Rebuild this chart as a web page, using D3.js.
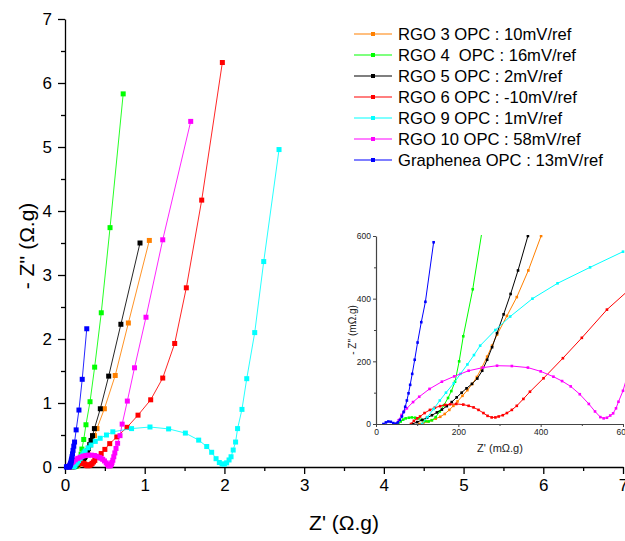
<!DOCTYPE html>
<html><head><meta charset="utf-8">
<script src="https://cdn.jsdelivr.net/npm/d3@7"></script>
<style>body{margin:0;background:#fff}svg{display:block}text{font-family:"Liberation Sans",Arial,sans-serif}</style>
</head><body>
<script>
// ---------- data (Z' , -Z'' in Ω.g) ----------
const seriesNames = ["RGO 3 OPC : 10mV/ref","RGO 4  OPC : 16mV/ref","RGO 5 OPC : 2mV/ref","RGO 6 OPC : -10mV/ref","RGO 9 OPC : 1mV/ref","RGO 10 OPC : 58mV/ref","Graphenea OPC : 13mV/ref"];
const seriesColors = ["#ff8000","#00ff00","#000000","#ff0000","#00ffff","#ff00ff","#0000ff"];
const rgo3 = [[0.105,0],[0.115,0.004],[0.125,0.008],[0.135,0.012],[0.145,0.017],[0.156,0.023],[0.167,0.032],[0.178,0.045],[0.188,0.058],[0.198,0.072],[0.210,0.090],[0.222,0.108],[0.234,0.128],[0.245,0.150],[0.257,0.180],[0.270,0.215],[0.282,0.250],[0.294,0.285],[0.318,0.345],[0.342,0.405],[0.370,0.49],[0.401,0.60],[0.494,0.91],[0.630,1.43],[0.795,2.25],[1.058,3.54]];
const rgo4 = [[0.054,0],[0.060,0.008],[0.066,0.014],[0.072,0.018],[0.080,0.020],[0.087,0.021],[0.095,0.020],[0.103,0.018],[0.112,0.013],[0.120,0.009],[0.128,0.008],[0.136,0.012],[0.145,0.022],[0.155,0.040],[0.165,0.060],[0.175,0.083],[0.183,0.105],[0.192,0.135],[0.202,0.20],[0.212,0.28],[0.235,0.43],[0.263,0.66],[0.314,1.02],[0.372,1.56],[0.455,2.41],[0.565,3.74],[0.73,5.83]];
const rgo5 = [[0.088,0],[0.100,0.006],[0.112,0.013],[0.124,0.020],[0.136,0.028],[0.148,0.037],[0.160,0.046],[0.172,0.057],[0.184,0.070],[0.196,0.085],[0.208,0.100],[0.220,0.114],[0.233,0.128],[0.246,0.145],[0.258,0.170],[0.270,0.205],[0.282,0.245],[0.294,0.290],[0.310,0.350],[0.327,0.415],[0.345,0.49],[0.369,0.60],[0.443,0.91],[0.548,1.42],[0.701,2.23],[0.941,3.50]];
const rgo6 = [[0.085,0],[0.092,0.010],[0.100,0.018],[0.107,0.024],[0.118,0.035],[0.131,0.045],[0.143,0.052],[0.156,0.057],[0.168,0.061],[0.180,0.063],[0.195,0.064],[0.212,0.062],[0.225,0.058],[0.237,0.053],[0.249,0.045],[0.261,0.035],[0.271,0.026],[0.281,0.021],[0.290,0.021],[0.298,0.024],[0.308,0.028],[0.318,0.035],[0.330,0.045],[0.342,0.058],[0.358,0.080],[0.374,0.103],[0.407,0.146],[0.454,0.21],[0.50,0.275],[0.561,0.365],[0.65,0.47],[0.778,0.62],[0.916,0.81],[1.075,1.05],[1.226,1.39],[1.376,1.93],[1.522,2.80],[1.715,4.17],[1.974,6.32]];
const rgo9 = [[0.112,0],[0.125,0.022],[0.140,0.048],[0.155,0.075],[0.170,0.100],[0.189,0.130],[0.205,0.16],[0.222,0.19],[0.238,0.22],[0.253,0.25],[0.29,0.30],[0.326,0.343],[0.38,0.40],[0.441,0.449],[0.52,0.50],[0.60,0.55],[0.835,0.60],[1.066,0.625],[1.30,0.595],[1.51,0.53],[1.677,0.42],[1.778,0.32],[1.84,0.23],[1.895,0.13],[1.936,0.07],[1.97,0.047],[2.0,0.045],[2.028,0.065],[2.058,0.11],[2.083,0.16],[2.11,0.265],[2.14,0.39],[2.165,0.60],[2.22,0.90],[2.28,1.38],[2.38,2.10],[2.493,3.21],[2.685,4.96]];
const rgo10 = [[0.048,0],[0.055,0.012],[0.062,0.029],[0.068,0.040],[0.075,0.050],[0.090,0.070],[0.105,0.087],[0.130,0.112],[0.160,0.135],[0.190,0.152],[0.225,0.170],[0.260,0.180],[0.294,0.186],[0.330,0.185],[0.369,0.180],[0.400,0.168],[0.431,0.151],[0.452,0.137],[0.473,0.120],[0.495,0.095],[0.517,0.064],[0.532,0.040],[0.545,0.022],[0.553,0.018],[0.561,0.020],[0.569,0.027],[0.576,0.034],[0.583,0.050],[0.589,0.071],[0.600,0.106],[0.612,0.16],[0.625,0.22],[0.640,0.29],[0.66,0.37],[0.69,0.49],[0.717,0.67],[0.782,1.03],[0.872,1.55],[1.016,2.34],[1.226,3.55],[1.577,5.40]];
const graphenea = [[0.018,0],[0.024,0.005],[0.030,0.008],[0.036,0.007],[0.042,0.003],[0.048,0.001],[0.053,0.005],[0.058,0.013],[0.063,0.024],[0.067,0.038],[0.071,0.055],[0.075,0.075],[0.079,0.098],[0.083,0.125],[0.088,0.16],[0.094,0.205],[0.101,0.26],[0.110,0.325],[0.120,0.39],[0.140,0.58],[0.175,0.89],[0.216,1.37],[0.273,2.16]];
const seriesData = [rgo3,rgo4,rgo5,rgo6,rgo9,rgo10,graphenea];
const mainTicks = [0,1,2,3,4,5,6,7];
const mainMinor = [0.5,1.5,2.5,3.5,4.5,5.5,6.5];
const insetTicks = [0,200,400,600];
const insetMinor = [100,300,500];

// ---------- layout ----------
const W=625,H=541;
const svg=d3.select("body").append("svg").attr("width",W).attr("height",H);
const x=d3.scaleLinear().domain([0,7]).range([65,623]);
const y=d3.scaleLinear().domain([0,7]).range([467,19]);

function axisStyle(g,col){g.select(".domain").attr("stroke",col).attr("stroke-width",1.3);g.selectAll(".tick line").attr("stroke",col).attr("stroke-width",1.3);}

// main axes
svg.append("g").attr("transform","translate(0,467)")
  .call(d3.axisBottom(x).tickValues(mainMinor).tickSize(4).tickFormat("").tickSizeOuter(0))
  .call(g=>{axisStyle(g,"#000");g.select(".domain").remove();});
svg.append("g").attr("transform","translate(65,0)")
  .call(d3.axisLeft(y).tickValues(mainMinor).tickSize(4).tickFormat("").tickSizeOuter(0))
  .call(g=>{axisStyle(g,"#000");g.select(".domain").remove();});
svg.append("g").attr("transform","translate(0,467)")
  .call(d3.axisBottom(x).tickValues(mainTicks).tickSize(7).tickPadding(5).tickSizeOuter(0).tickFormat(d3.format("d")))
  .call(g=>{axisStyle(g,"#000");g.selectAll("text").attr("font-size",17).attr("fill","#000").attr("font-family","Liberation Sans, Arial, sans-serif");});
svg.append("g").attr("transform","translate(65,0)")
  .call(d3.axisLeft(y).tickValues(mainTicks).tickSize(7).tickPadding(6).tickSizeOuter(0).tickFormat(d3.format("d")))
  .call(g=>{axisStyle(g,"#000");g.selectAll("text").attr("font-size",17).attr("fill","#000").attr("font-family","Liberation Sans, Arial, sans-serif");});

svg.append("text").attr("x",344).attr("y",530).attr("text-anchor","middle").attr("font-size",21).text("Z' (Ω.g)");
svg.append("text").attr("transform","translate(34,246) rotate(-90)").attr("text-anchor","middle").attr("font-size",21).text("- Z'' (Ω.g)");

// main series
const line=d3.line().x(d=>x(d[0])).y(d=>y(d[1]));
seriesData.forEach((s,i)=>{
  const g=svg.append("g");
  g.append("path").attr("d",line(s)).attr("fill","none").attr("stroke",seriesColors[i]).attr("stroke-width",1).attr("stroke-opacity",0.85);
  g.selectAll("rect").data(s).join("rect")
    .attr("x",d=>x(d[0])-2.5).attr("y",d=>y(d[1])-2.5).attr("width",5).attr("height",5).attr("fill",seriesColors[i]);
});

// legend
const lg=svg.append("g");
seriesNames.forEach((n,i)=>{
  const yy=34+i*21;
  lg.append("line").attr("x1",354).attr("x2",392).attr("y1",yy).attr("y2",yy).attr("stroke",seriesColors[i]).attr("stroke-width",1.2);
  lg.append("rect").attr("x",371).attr("y",yy-2).attr("width",4).attr("height",4).attr("fill",seriesColors[i]);
  lg.append("text").attr("x",398).attr("y",yy+6).attr("font-size",16.6).attr("fill","#000").style("white-space","pre").text(n);
});

// ---------- inset ----------
const xi=d3.scaleLinear().domain([0,600]).range([376,623]);
const yi=d3.scaleLinear().domain([0,600]).range([424,236]);
svg.append("defs").append("clipPath").attr("id","ic").append("rect").attr("x",376).attr("y",235).attr("width",249).attr("height",190);
const ins=svg.append("g").attr("clip-path","url(#ic)");
const iline=d3.line().x(d=>xi(d[0]*1000)).y(d=>yi(d[1]*1000));
seriesData.forEach((s,i)=>{
  const pts=s.filter(d=>d[0]<=0.75&&d[1]<=0.75);
  ins.append("path").attr("d",iline(pts)).attr("fill","none").attr("stroke",seriesColors[i]).attr("stroke-width",1);
  ins.selectAll("rect.m"+i).data(pts).join("rect")
    .attr("x",d=>xi(d[0]*1000)-1.3).attr("y",d=>yi(d[1]*1000)-1.3).attr("width",2.6).attr("height",2.6).attr("fill",seriesColors[i]);
});
const icol="#444";
svg.append("g").attr("transform","translate(0,424)")
  .call(d3.axisBottom(xi).tickValues(insetMinor).tickSize(2).tickFormat("").tickSizeOuter(0))
  .call(g=>{g.select(".domain").remove();g.selectAll("line").attr("stroke",icol);});
svg.append("g").attr("transform","translate(376,0)")
  .call(d3.axisLeft(yi).tickValues(insetMinor).tickSize(2).tickFormat("").tickSizeOuter(0))
  .call(g=>{g.select(".domain").remove();g.selectAll("line").attr("stroke",icol);});
svg.append("g").attr("transform","translate(0,424)")
  .call(d3.axisBottom(xi).tickValues(insetTicks).tickSize(3).tickPadding(2).tickSizeOuter(0))
  .call(g=>{g.select(".domain").attr("stroke",icol).attr("stroke-width",1.2);g.selectAll("line").attr("stroke",icol);g.selectAll("text").attr("font-size",8.5).attr("fill","#222").attr("font-family","Liberation Sans, Arial, sans-serif");});
svg.append("g").attr("transform","translate(376,0)")
  .call(d3.axisLeft(yi).tickValues(insetTicks).tickSize(3).tickPadding(2).tickSizeOuter(0))
  .call(g=>{g.select(".domain").attr("stroke",icol).attr("stroke-width",1.2);g.selectAll("line").attr("stroke",icol);g.selectAll("text").attr("font-size",8.5).attr("fill","#222").attr("font-family","Liberation Sans, Arial, sans-serif");});
svg.append("text").attr("x",500).attr("y",452).attr("text-anchor","middle").attr("font-size",11).attr("fill","#222").text("Z' (mΩ.g)");
svg.append("text").attr("transform","translate(356,330) rotate(-90)").attr("text-anchor","middle").attr("font-size",10).attr("fill","#222").text("- Z'' (mΩ.g)");
</script>
</body></html>
